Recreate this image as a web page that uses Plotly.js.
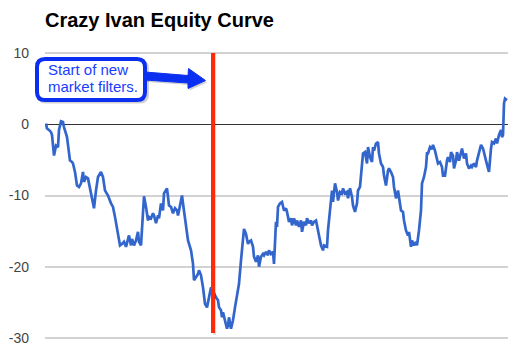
<!DOCTYPE html>
<html>
<head>
<meta charset="utf-8">
<script src="https://cdn.plot.ly/plotly-3.0.1.min.js"></script>
<style>html,body{margin:0;padding:0;background:#fff;}#chart{width:521px;height:356px;}</style>
</head>
<body>
<div id="chart"></div>
<script>
const chartTitle = "Crazy Ivan Equity Curve";
const calloutLines = ["Start of new", "market filters."];
const filterStartTrade = 167;
const filterLineBottom = -29.3;
const filterLineTop = 10;
const yTicks = [-30, -20, -10, 0, 10];

const trade = [0,1,3,5,6,8,10,12,13,15,17,18,21,24,26,27,29,31,33,35,37,38,40,42,43,46,48,50,52,55,57,59,62,65,67,69,
71,72,74,76,78,80,82,83,85,86,88,90,92,93,95,97,98,100,102,103,105,107,108,110,112,113,115,117,118,121,123,125,127,129,131,132,134,136,137,140,142,145,147,148,150,152,153,155,157,158,
159,161,163,165,166,168,170,172,173,175,176,177,179,181,182,183,185,187,189,191,193,195,197,198,200,202,203,205,207,208,210,212,213,215,217,218,220,222,223,225,227,228,230,
231,232,234,236,238,240,241,243,245,246,248,250,251,253,255,256,258,260,261,263,265,266,268,270,272,273,275,277,278,281,282,284,286,287,289,291,292,294,296,297,299,301,302,304,306,307,309,311,
312,314,316,317,319,321,322,324,326,327,328,330,332,333,335,337,338,340,342,343,345,347,348,350,352,353,355,357,358,360,362,363,365,366,368,370,371,373,375,376,378,380,381,382,384,
386,387,389,391,392,394,396,397,399,401,402,404,405,407,408,410,411,413,415,416,418,420,421,423,425,426,428,430,431,433,435,437,438,440,442,443,445,446,448,450,451,453,455,456,457,458,459,461];

const equity = [0.1,-0.6,-0.8,-1.1,-1.5,-4.4,-3.0,-3.2,-0.8,0.4,0.3,-0.4,-1.8,-5.1,-5.3,-5.5,-6.7,-8.6,-8.8,-8.3,-6.7,-8.1,-7.4,-7.6,-8.3,-10.2,-11.8,-9.3,-7.4,-6.7,-7.4,-9.3,-10.0,-11.1,-11.6,-13.0,
-14.4,-15.4,-17.0,-16.8,-16.5,-17.2,-16.3,-15.6,-17.0,-16.1,-17.0,-16.3,-15.1,-16.5,-17.0,-13.0,-10.1,-11.6,-13.5,-13.0,-13.2,-12.5,-12.8,-13.9,-12.8,-13.2,-11.1,-12.1,-9.7,-9.0,-11.4,-11.6,-12.5,-11.8,-12.1,-12.8,-11.6,-10.0,-11.1,-13.9,-16.3,-17.7,-19.6,-21.9,-21.4,-21.0,-20.5,-21.2,-22.9,-24.7,
-25.2,-25.7,-24.3,-22.9,-23.1,-23.8,-24.3,-24.7,-25.7,-26.1,-27.1,-26.4,-27.5,-28.7,-28.2,-27.1,-28.7,-27.5,-25.7,-24.3,-22.4,-19.1,-16.3,-14.7,-15.4,-16.8,-16.5,-16.3,-17.2,-18.6,-19.3,-18.4,-20.0,-18.6,-18.2,-18.4,-17.9,-18.4,-17.7,-18.2,-17.9,-19.6,-13.7,
-14.4,-11.6,-11.1,-10.9,-12.1,-11.8,-12.3,-13.7,-13.2,-14.2,-13.2,-14.2,-13.5,-14.4,-13.5,-15.1,-13.7,-14.2,-13.2,-13.9,-13.5,-14.2,-13.7,-13.5,-14.9,-16.1,-17.0,-17.7,-17.0,-17.2,-14.9,-12.1,-9.3,-10.9,-8.3,-9.5,-10.7,-9.5,-9.7,-9.0,-9.7,-9.5,-10.4,-9.0,-10.2,-11.4,-12.3,-11.1,
-9.3,-8.8,-6.0,-4.1,-3.9,-5.5,-3.2,-4.6,-5.3,-3.2,-3.7,-2.7,-2.5,-4.1,-5.5,-6.0,-7.2,-8.6,-6.5,-6.2,-6.7,-7.4,-8.8,-10.4,-9.3,-10.2,-12.1,-12.3,-13.5,-14.9,-15.6,-15.1,-17.2,-16.3,-17.0,-16.5,-17.0,-14.9,-12.1,-8.3,-7.4,-6.0,-4.1,-4.1,-3.2,
-3.5,-2.9,-3.7,-5.1,-5.5,-5.3,-6.0,-7.2,-7.2,-5.1,-4.6,-5.3,-3.9,-4.4,-6.2,-5.1,-3.9,-5.1,-4.1,-3.4,-4.8,-4.1,-5.5,-6.2,-5.8,-6.0,-5.5,-6.0,-5.1,-3.9,-2.9,-3.4,-4.1,-5.1,-6.2,-6.7,-3.4,-2.5,-2.7,-2.0,-2.7,-1.5,-0.8,-1.8,-1.5,2.9,3.6,3.4];

// layout helpers (pixel -> paper)
const W = 521, H = 356, ML = 45, MR = 13, MT = 53, MB = 18;
const PW = W - ML - MR, PH = H - MT - MB;
const px = p => (p - ML) / PW;
const py = p => (H - MB - p) / PH;
function path(pts) {
  return pts.map((c, i) => (c[0] === 'Q' ? 'Q' + px(c[1]) + ',' + py(c[2]) + ' ' + px(c[3]) + ',' + py(c[4]) : (i === 0 ? 'M' : 'L') + px(c[0]) + ',' + py(c[1]))).join(' ') + ' Z';
}
function roundRect(x0, y0, x1, y1, r) {
  return path([[x0 + r, y0], [x1 - r, y0], ['Q', x1, y0, x1, y0 + r], [x1, y1 - r], ['Q', x1, y1, x1 - r, y1], [x0 + r, y1], ['Q', x0, y1, x0, y1 - r], [x0, y0 + r], ['Q', x0, y0, x0 + r, y0]]);
}
const blue = '#0a2ff0';
const arrowPts = [[145, 72], [188, 75.5], [188.5, 68.5], [205.5, 80.5], [188, 88.5], [188, 83], [145, 80]];
const shadowArrow = arrowPts.map(p => [p[0] + 1.5, p[1] + 2]);
const fontFam = 'Arial, Liberation Sans, sans-serif';
const gridCol = '#d2d2d2';
const yMin = Math.min(...yTicks), yMax = Math.max(...yTicks);

const data = [{
  x: trade, y: equity, type: 'scatter', mode: 'lines',
  line: {color: '#3366cc', width: 2.7}, hoverinfo: 'skip'
}];

// edge gridlines drawn in paper coordinates so they are never clipped
const edgeGrid = [yMin, yMax].map(v => {
  const yp = (v - yMin) / (yMax - yMin);
  return {
    type: 'line', xref: 'paper', yref: 'paper', x0: 0, x1: 1, y0: yp, y1: yp,
    line: {color: gridCol, width: 2}, layer: 'below'
  };
});

const layout = {
  width: W, height: H,
  margin: {l: ML, r: MR, t: MT, b: MB, pad: 0},
  paper_bgcolor: '#fff', plot_bgcolor: '#fff',
  showlegend: false,
  font: {family: fontFam},
  title: {
    text: chartTitle, x: ML / W, xanchor: 'left', xref: 'container',
    y: 1 - 20 / H, yanchor: 'middle', yref: 'container',
    font: {family: fontFam, size: 20, color: '#000', weight: 'bold'}
  },
  xaxis: {
    range: [-1, 462], showgrid: false, zeroline: false, showticklabels: false, ticks: '',
    showline: false, fixedrange: true
  },
  yaxis: {
    range: [yMin, yMax], tickvals: yTicks, ticktext: yTicks.map(String),
    showgrid: true, gridcolor: gridCol, gridwidth: 2,
    zeroline: true, zerolinecolor: '#333333', zerolinewidth: 1.5,
    showline: false, ticks: '', ticklabelstandoff: 15,
    tickfont: {family: fontFam, size: 14, color: '#444444'},
    fixedrange: true
  },
  shapes: edgeGrid.concat([
    {type: 'line', xref: 'x', yref: 'y', x0: filterStartTrade + 1.5, x1: filterStartTrade + 1.5, y0: filterLineBottom - 0.25, y1: filterLineTop, line: {color: 'rgba(0,0,0,0.15)', width: 3}, layer: 'above'},
    {type: 'line', xref: 'x', yref: 'y', x0: filterStartTrade, x1: filterStartTrade, y0: filterLineBottom, y1: filterLineTop, line: {color: '#ff2a0a', width: 4}, layer: 'above'},
    {type: 'path', xref: 'paper', yref: 'paper', path: roundRect(37, 59.5, 149, 103.5, 9), fillcolor: 'rgba(0,0,0,0.18)', line: {width: 0}, layer: 'above'},
    {type: 'path', xref: 'paper', yref: 'paper', path: path(shadowArrow), fillcolor: 'rgba(0,0,0,0.18)', line: {width: 0}, layer: 'above'},
    {type: 'path', xref: 'paper', yref: 'paper', path: path(arrowPts), fillcolor: blue, line: {color: blue, width: 1}, layer: 'above'},
    {type: 'path', xref: 'paper', yref: 'paper', path: roundRect(37, 59, 145, 100, 8), fillcolor: '#ffffff', line: {color: blue, width: 4}, layer: 'above'}
  ]),
  annotations: calloutLines.map((t, i) => ({
    text: t, xref: 'paper', yref: 'paper', x: px(46), y: py(80.5 + i * 16.7),
    xanchor: 'left', yanchor: 'bottom', align: 'left', showarrow: false,
    font: {family: fontFam, size: 15, color: '#1a3cff'}
  }))
};

Plotly.newPlot('chart', data, layout, {staticPlot: true, displayModeBar: false});
</script>
</body>
</html>
